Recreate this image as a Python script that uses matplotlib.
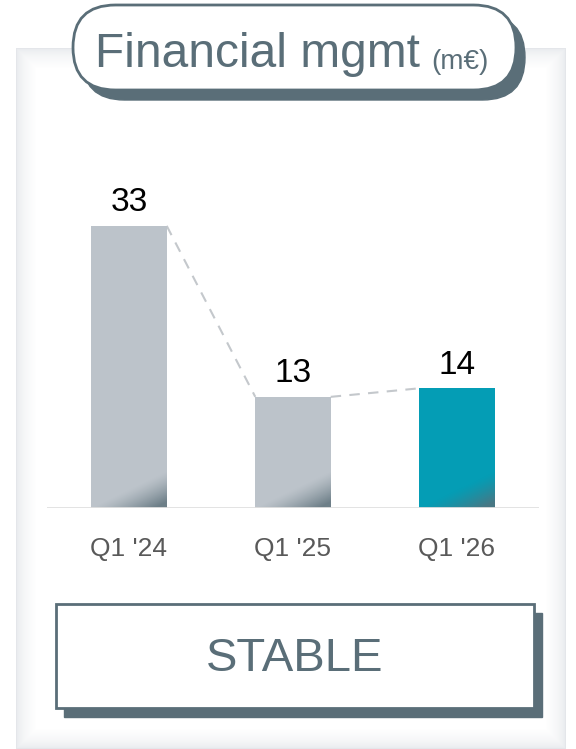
import numpy as np
import matplotlib
matplotlib.use("Agg")
import matplotlib.pyplot as plt
from matplotlib.patches import FancyBboxPatch, Rectangle
from matplotlib.colors import to_rgb

# ---- data ----
categories = ["Q1 '24", "Q1 '25", "Q1 '26"]
values = [33, 13, 14]
bar_colors = ["#bcc3ca", "#bcc3ca", "#049db5"]
title_main = "Financial mgmt"
title_unit = "(m€)"
verdict = "STABLE"

SLATE = "#5a6e78"
W, H = 576, 749
plt.rcParams['font.family'] = ['Liberation Sans', 'DejaVu Sans']

fig = plt.figure(figsize=(W / 100, H / 100), dpi=100)
fig.patch.set_facecolor("white")

# ---- decoration axes in pixel units (y up) ----
ax0 = fig.add_axes([0, 0, 1, 1])
ax0.set_xlim(0, W)
ax0.set_ylim(0, H)
ax0.axis("off")

# card with soft inner shading
cx0, cx1, cy0, cy1 = 16, 565, 48, 748  # in top-down pixels
yy, xx = np.mgrid[0:H, 0:W]
d = np.minimum.reduce([xx - cx0, cx1 - xx, yy - cy0, cy1 - yy]).astype(float)
inside = d >= 0
t = np.clip(d / 20.0, 0, 1)
img = np.ones((H, W, 3))
edge = np.array([0.895, 0.905, 0.92])
for k in range(3):
    ch = np.ones((H, W))
    ch[inside] = edge[k] + (1 - edge[k]) * (t[inside] ** 0.5)
    img[:, :, k] = ch
ax0.imshow(img, extent=(0, W, 0, H), origin="upper", zorder=0, interpolation="bilinear")
ax0.set_xlim(0, W)
ax0.set_ylim(0, H)

def Y(y):
    return H - y

# title pill
px0, px1, pyt, pyb = 73, 516, 5, 90
ph = pyb - pyt
shadow = FancyBboxPatch((px0 + 9, Y(pyb) - 10), px1 - px0, ph,
                        boxstyle=f"round,pad=0,rounding_size={ph/2}",
                        facecolor=SLATE, edgecolor=SLATE, lw=1, zorder=2)
pill = FancyBboxPatch((px0, Y(pyb)), px1 - px0, ph,
                      boxstyle=f"round,pad=0,rounding_size={ph/2}",
                      facecolor="white", edgecolor=SLATE, lw=2, zorder=3)
ax0.add_patch(shadow)
ax0.add_patch(pill)
ax0.text(95, Y(67), title_main, fontsize=34.5, color=SLATE, ha="left",
         va="baseline", zorder=4)
ax0.text(431, Y(69), title_unit, fontsize=20, color=SLATE, ha="left",
         va="baseline", zorder=4)

# verdict box
bx0, bx1, byt, byb = 56, 534, 604, 708
ax0.add_patch(Rectangle((bx0 + 8, Y(byb) - 9), bx1 - bx0, byb - byt,
                        facecolor=SLATE, edgecolor=SLATE, lw=1, zorder=2))
ax0.add_patch(Rectangle((bx0, Y(byb)), bx1 - bx0, byb - byt,
                        facecolor="white", edgecolor=SLATE, lw=2, zorder=3))
ax0.text((bx0 + bx1) / 2, Y(659), verdict, fontsize=34, color=SLATE,
         ha="center", va="center", zorder=4)

# ---- chart axes ----
base_px = 508
ax_h_px = 342
ax = fig.add_axes([47 / W, (H - base_px) / H, 492 / W, ax_h_px / H])
ax.set_facecolor("none")
ax.set_xlim(-0.5, 2.5)
ymax = 40
ax.set_ylim(0, ymax)
for s in ax.spines.values():
    s.set_visible(False)
ax.set_yticks([])

x = np.arange(len(categories))
bars = ax.bar(x, values, width=0.46, color=bar_colors, zorder=2)

# bottom-right darkening of each bar
px_per_unit = ax_h_px / ymax
grad_h_px = 45
slate_rgb = np.array(to_rgb(SLATE))
for b in bars:
    wpx = int(round(b.get_width() * 492 / 3))
    hpx = grad_h_px
    v, u = np.mgrid[0:hpx, 0:wpx]
    vpx = hpx - 1 - v  # 0 at bottom
    s = u * (36.0 / wpx) - vpx
    a = np.clip(s / 30.0, 0, 1) ** 1.3 * 0.8
    arr = np.zeros((hpx, wpx, 4))
    arr[:, :, :3] = slate_rgb
    arr[:, :, 3] = a
    im = ax.imshow(arr, extent=(b.get_x(), b.get_x() + b.get_width(), 0,
                                hpx / px_per_unit),
                   origin="upper", aspect="auto", zorder=3,
                   interpolation="bilinear")
    im.set_clip_path(b)
ax.set_xlim(-0.5, 2.5)
ax.set_ylim(0, ymax)

# dashed connectors
for i in range(len(bars) - 1):
    p, q = bars[i], bars[i + 1]
    ax.plot([p.get_x() + p.get_width(), q.get_x()],
            [p.get_height(), q.get_height()],
            color="#c4c8cc", lw=1.5, dashes=(5, 4), zorder=1)

# baseline
ax.axhline(0, color="#e0e0e0", lw=2, zorder=4)

# value labels
for xi, v in zip(x, values):
    ax.annotate(str(v), (xi, v), xytext=(0, 10.5), textcoords="offset points",
                ha="center", va="baseline", fontsize=24, color="black")

ax.set_xticks(x)
ax.set_xticklabels(categories, fontsize=19, color="#595959")
ax.tick_params(axis="x", length=0, pad=21)

fig.savefig("out.png", dpi=100, facecolor="white")
